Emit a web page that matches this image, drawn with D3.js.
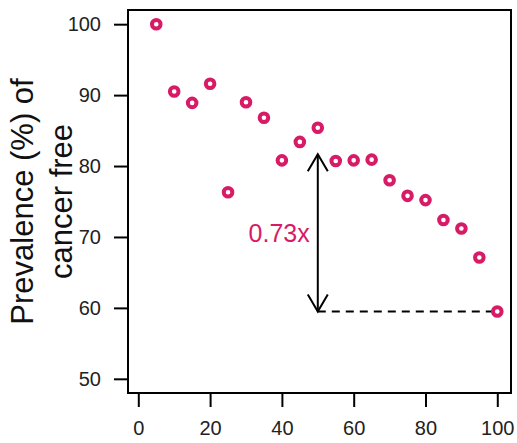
<!DOCTYPE html>
<html>
<head>
<meta charset="utf-8">
<script src="https://cdn.jsdelivr.net/npm/d3@7"></script>
<style>
  html, body { margin: 0; padding: 0; background: #fff; }
  svg { display: block; }
  text { font-family: "Liberation Sans", Arial, Helvetica, sans-serif; }
</style>
</head>
<body>
<svg id="chart" width="517" height="443"></svg>
<script>
// ---- data ----
const ages = [5, 10, 15, 20, 25, 30, 35, 40, 45, 50, 55, 60, 65, 70, 75, 80, 85, 90, 95, 100];
const prevalence = [100, 90.5, 88.9, 91.6, 76.3, 89.0, 86.8, 80.8, 83.4, 85.4, 80.7, 80.8, 80.9, 78.0, 75.8, 75.2, 72.4, 71.2, 67.1, 59.5];
const xTicks = [0, 20, 40, 60, 80, 100];
const yTicks = [50, 60, 70, 80, 90, 100];
const arrowX = 50;
const arrowTop = 81.65;
const arrowBottom = 59.5;
const ratioLabel = "0.73x";
const yTitleLines = ["Prevalence (%) of", "cancer free"];

// ---- layout ----
const color = "#D71B66";
const box = { left: 128, top: 10, right: 511, bottom: 393 };
const svg = d3.select("#chart");

const x = d3.scaleLinear().domain([-2.87, 103.82]).range([box.left, box.right]);
const y = d3.scaleLinear().domain([48, 102]).range([box.bottom, box.top]);

// axes
const yAxis = d3.axisLeft(y).tickValues(yTicks).tickSize(13).tickPadding(13);
const gy = svg.append("g").attr("transform", `translate(${box.left - 1},0)`).call(yAxis);
gy.select(".domain").remove();
gy.selectAll(".tick line").attr("stroke", "#000").attr("stroke-width", 2);
gy.selectAll(".tick text").attr("font-size", 20).attr("fill", "#222")
  .attr("font-family", "Liberation Sans, Arial, sans-serif");

const xAxis = d3.axisBottom(x).tickValues(xTicks).tickSize(14).tickPadding(14);
const gx = svg.append("g").attr("transform", `translate(0,${box.bottom})`).call(xAxis);
gx.select(".domain").remove();
gx.selectAll(".tick line").attr("stroke", "#000").attr("stroke-width", 2);
gx.selectAll(".tick text").attr("font-size", 20).attr("fill", "#222")
  .attr("font-family", "Liberation Sans, Arial, sans-serif");

// box
svg.append("rect")
  .attr("x", box.left).attr("y", box.top)
  .attr("width", box.right - box.left).attr("height", box.bottom - box.top)
  .attr("fill", "none").attr("stroke", "#000").attr("stroke-width", 2);

// y title (two lines)
const cy = (box.top + box.bottom) / 2;
const yTitle = svg.append("text")
  .attr("transform", `translate(33,${cy}) rotate(-90)`)
  .attr("text-anchor", "middle")
  .attr("font-size", 31)
  .attr("fill", "#111");
yTitleLines.forEach((t, i) => {
  yTitle.append("tspan").attr("x", 0).attr("dy", i === 0 ? 0 : 38.5).text(t);
});

// dashed reference line
svg.append("line")
  .attr("x1", x(arrowX)).attr("x2", x(ages[ages.length - 1]))
  .attr("y1", y(arrowBottom)).attr("y2", y(arrowBottom))
  .attr("stroke", "#000").attr("stroke-width", 2)
  .attr("stroke-dasharray", "8,6");

// double-headed arrow
const ax = x(arrowX), ayTop = y(arrowTop), ayBot = y(arrowBottom);
const arrow = svg.append("g").attr("stroke", "#000").attr("stroke-width", 2).attr("fill", "none");
arrow.append("line").attr("x1", ax).attr("x2", ax).attr("y1", ayTop).attr("y2", ayBot);
arrow.append("path").attr("d", `M${ax - 10},${ayTop + 17} L${ax},${ayTop} L${ax + 10},${ayTop + 17}`);
arrow.append("path").attr("d", `M${ax - 10},${ayBot - 17} L${ax},${ayBot} L${ax + 10},${ayBot - 17}`);

// ratio label
svg.append("text")
  .attr("x", ax - 8)
  .attr("y", (ayTop + ayBot) / 2)
  .attr("dy", "0.35em")
  .attr("text-anchor", "end")
  .attr("font-size", 25)
  .attr("fill", color)
  .text(ratioLabel);

// points
svg.append("g").selectAll("circle")
  .data(ages.map((a, i) => [a, prevalence[i]]))
  .join("circle")
  .attr("cx", d => x(d[0]))
  .attr("cy", d => y(d[1]))
  .attr("r", 4.3)
  .attr("fill", "none")
  .attr("stroke", color)
  .attr("stroke-width", 4);
</script>
</body>
</html>
